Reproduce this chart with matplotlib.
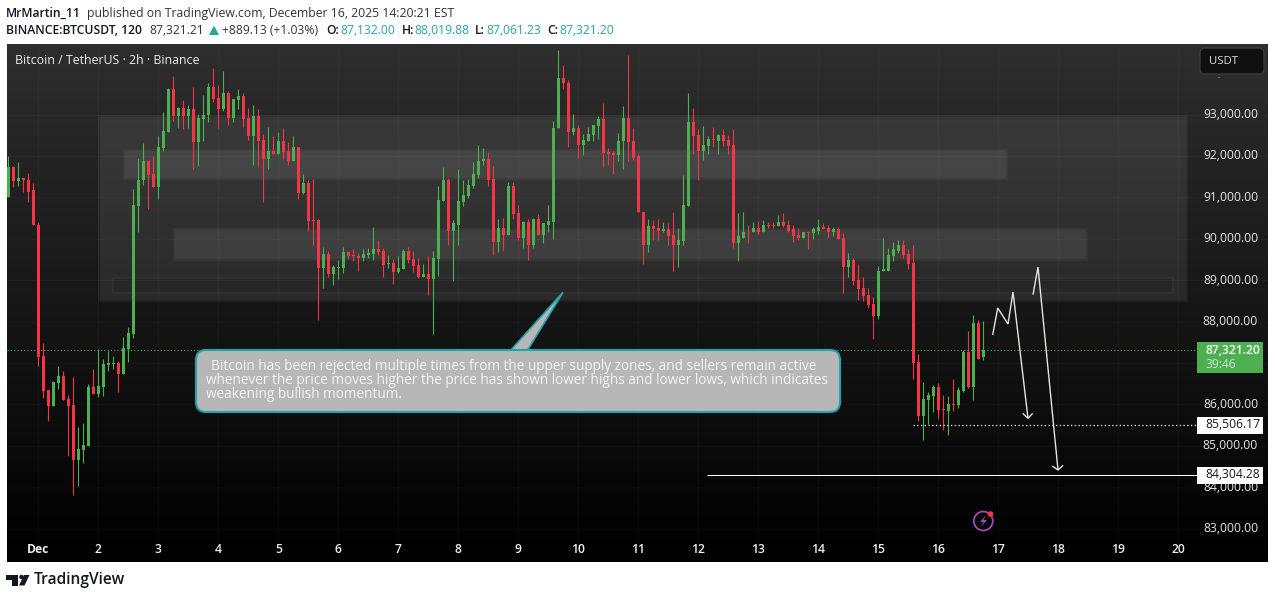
import matplotlib
matplotlib.use('Agg')
import matplotlib.pyplot as plt
from matplotlib.colors import LinearSegmentedColormap
from matplotlib.patches import Rectangle, FancyBboxPatch, Polygon, Circle
from matplotlib.transforms import Affine2D
import numpy as np

plt.rcParams['font.family'] = ['Open Sans', 'DejaVu Sans']

# 2h candles
opens = [
    91003, 91744, 91382, 91478, 91430, 91165, 90343, 87156, 86335, 85948,
    86504, 86673, 86117, 85972, 84644, 84885, 84982, 86407, 86238, 86407,
    86938, 86970, 86987, 86721, 87325, 87687, 90802, 91406, 91889, 91551,
    91237, 92203, 92589, 93628, 92952, 93169, 92952, 93121, 92324, 92903,
    92976, 93676, 93410, 93145, 93531, 92927, 93362, 93435, 92927, 92469,
    92952, 92396, 91937, 92130, 92034, 92348, 92130, 91889, 92227, 91092,
    91334, 90440, 90440, 89281, 89619, 89136, 89281, 89281, 89667, 89595,
    89571, 89522, 89595, 89619, 89740, 89691, 89377, 89402, 89184, 89257,
    89691, 89498, 89353, 89063, 89136, 89015, 89498, 90899, 91406, 90198,
    90343, 90875, 91020, 91285, 91527, 91865, 91937, 91454, 89909, 90247,
    90078, 91285, 90609, 90005, 90392, 89860, 90488, 90078, 90343, 90392,
    92662, 93893, 93773, 92589, 92662, 92275, 92372, 92517, 92734, 92903,
    92106, 92082, 92010, 92348, 92927, 92348, 91986, 90657, 89836, 90295,
    90247, 90198, 90223, 90078, 89836, 89933, 90802, 92831, 92493, 92130,
    92251, 92420, 92372, 92493, 92396, 92275, 89885, 90029, 90174, 90150,
    90247, 90174, 90319, 90319, 90295, 90392, 90319, 90223, 90078, 90005,
    90150, 90126, 90198, 90271, 90247, 90150, 90223, 90005, 89305, 89474,
    88991, 88798, 88629, 88411, 88122, 89208, 89232, 89571, 89715, 89836,
    89619, 89402, 87011, 85707, 86093, 86190, 86407, 85876, 85827, 85996,
    85972, 86310, 87252, 86407, 87953, 87132]
highs = [
    91986, 91768, 91841, 91478, 91599, 91334, 90392, 87470, 86335, 86552,
    86914, 86793, 86214, 86648, 85441, 85538, 86479, 86842, 87325, 87083,
    87276, 87156, 87035, 87614, 87856, 91189, 91961, 92300, 91913, 91986,
    92469, 93072, 93652, 93942, 93193, 93362, 93241, 93676, 93024, 93483,
    93749, 94135, 93724, 94062, 93579, 93386, 93604, 93531, 93169, 93241,
    93145, 92541, 92710, 92469, 92589, 92662, 92324, 92469, 92227, 91551,
    91406, 91454, 90488, 89788, 89715, 89353, 89474, 89788, 89715, 89740,
    89643, 89740, 89764, 90271, 89957, 89764, 89595, 89498, 89571, 89740,
    89788, 89715, 89522, 89377, 89571, 89691, 91261, 91744, 91478, 90440,
    91672, 91406, 91454, 91841, 92275, 92203, 92106, 91768, 90488, 90512,
    91358, 91358, 90826, 90416, 90488, 90512, 90585, 90368, 90826, 92855,
    94570, 94207, 93845, 93024, 92758, 92541, 92710, 92758, 92952, 93266,
    92203, 92130, 92565, 93217, 94449, 92686, 92058, 90657, 90464, 90440,
    90488, 90392, 90368, 90633, 90247, 91527, 93531, 93169, 92638, 92734,
    92469, 92710, 92541, 92638, 92517, 92638, 90609, 90657, 90319, 90392,
    90416, 90440, 90392, 90392, 90561, 90609, 90440, 90319, 90247, 90174,
    90198, 90271, 90464, 90368, 90319, 90271, 90271, 90126, 89643, 89546,
    89377, 89063, 88798, 88580, 89329, 90029, 89764, 89909, 89957, 89957,
    89740, 89860, 87204, 86528, 86286, 86455, 86504, 86214, 86190, 86600,
    86407, 87300, 87759, 88146, 88025, 88020]
lows = [
    91003, 91237, 91285, 91140, 90875, 90319, 86914, 86141, 85586, 85948,
    86359, 86093, 84741, 83799, 84016, 84572, 84982, 86238, 86165, 86190,
    86793, 86842, 86286, 86721, 87011, 87590, 90174, 91309, 90706, 91237,
    90971, 92130, 92589, 92855, 92662, 92638, 92662, 91672, 91768, 92372,
    92807, 93290, 92662, 93096, 92758, 92807, 93145, 92710, 92396, 91792,
    91744, 90875, 91672, 92034, 92034, 91937, 91792, 91889, 90947, 91068,
    90198, 89860, 88025, 88798, 89063, 88870, 89015, 89160, 89498, 89450,
    89208, 89450, 89546, 89474, 89595, 89063, 89281, 88894, 89160, 89257,
    89402, 89184, 89039, 89063, 88629, 87687, 89088, 90899, 89860, 88967,
    89836, 90802, 90995, 91213, 91478, 91792, 91285, 89595, 89667, 89715,
    90078, 90464, 89957, 89764, 89474, 89764, 90078, 89885, 90150, 89981,
    92662, 93628, 92227, 92493, 91961, 92010, 92372, 92372, 92420, 91744,
    91792, 91551, 91889, 91672, 91865, 91913, 90633, 89377, 89667, 89957,
    89957, 90150, 89860, 89232, 89305, 89860, 90778, 92058, 91430, 91913,
    92058, 92227, 92034, 92251, 92058, 89764, 89450, 90005, 89885, 90150,
    90102, 90174, 90247, 90247, 90295, 90271, 90174, 89909, 89957, 90005,
    89740, 89981, 90102, 90223, 90029, 90054, 89981, 88677, 89063, 88870,
    88508, 88484, 88315, 87566, 88049, 89208, 89232, 89450, 89643, 89546,
    89257, 86600, 85586, 85127, 85513, 85803, 85634, 85368, 85248, 85827,
    85900, 86286, 86383, 86093, 87083, 87061]
closes = [
    91744, 91382, 91478, 91406, 91140, 90319, 87131, 86310, 85948, 86528,
    86673, 86093, 85948, 84644, 84910, 85006, 86407, 86238, 86431, 86962,
    86987, 86987, 86721, 87349, 87711, 90826, 91430, 91889, 91527, 91237,
    92227, 92613, 93628, 92952, 93169, 92952, 93121, 92324, 92927, 93000,
    93676, 93386, 93145, 93531, 92927, 93386, 93435, 92903, 92469, 92952,
    92372, 91937, 92130, 92034, 92348, 92106, 91889, 92227, 91092, 91334,
    90416, 90416, 89281, 89619, 89136, 89305, 89305, 89667, 89571, 89571,
    89546, 89619, 89643, 89740, 89667, 89353, 89402, 89184, 89281, 89691,
    89474, 89329, 89063, 89136, 89015, 89522, 90923, 91406, 90198, 90368,
    90899, 91044, 91309, 91551, 91889, 91937, 91430, 89909, 90247, 90078,
    91285, 90585, 90005, 90392, 89860, 90488, 90078, 90368, 90416, 92686,
    93893, 93749, 92589, 92662, 92275, 92396, 92541, 92758, 92903, 92082,
    92058, 92010, 92372, 92927, 92324, 91961, 90633, 89836, 90295, 90223,
    90198, 90223, 90054, 89836, 89957, 90826, 92831, 92469, 92130, 92275,
    92420, 92396, 92493, 92372, 92251, 89885, 90054, 90174, 90150, 90247,
    90174, 90319, 90295, 90295, 90392, 90295, 90198, 90054, 90005, 90150,
    90126, 90223, 90271, 90223, 90150, 90223, 89981, 89305, 89474, 88967,
    88774, 88605, 88387, 88122, 89232, 89257, 89595, 89740, 89836, 89595,
    89377, 86987, 85707, 86117, 86214, 86407, 85851, 85851, 85996, 85972,
    86335, 87252, 86407, 87953, 87083, 87321]

day_labels = ['Dec', '2', '3', '4', '5', '6', '7', '8', '9', '10', '11', '12',
              '13', '14', '15', '16', '17', '18', '19', '20']
price_ticks = [83000, 84000, 85000, 86000, 87000, 88000, 89000, 90000, 91000,
               92000, 93000]
price_labels = ['83,000.00', '84,000.00', '85,000.00', '86,000.00', '', '88,000.00',
                '89,000.00', '90,000.00', '91,000.00', '92,000.00', '93,000.00']

# zones: first bar, last bar, low, high
zone_first = [17.9, 22.9, 32.9]
zone_last = [235.9, 200, 215.9]
zone_low = [88460, 91420, 89450]
zone_high = [92976, 92155, 90247]
zone_alpha = [0.09, 0.09, 0.09]
# thin outlined box near the bottom of the big zone
box_first, box_last, box_low, box_high = 20.9, 232.9, 88700, 89040

last_price = 87321.20
level_mid = 85506.17
level_low = 84304.28

GREEN = '#4caf50'
RED = '#f23645'
TEAL = '#26a69a'
DARK = '#131722'

fig = plt.figure(figsize=(12.75, 5.99), dpi=100, facecolor='white')
ax = fig.add_axes([7 / 1275, 37 / 599, 1261 / 1275, 518 / 599])
ax.set_xlim(-0.26, 251.94)
ax.set_ylim(82191, 94703)

# top-left pixel coordinates for all the overlay furniture
px = Affine2D().scale(1, -1).translate(0, 599)

cmap = LinearSegmentedColormap.from_list('panel', ['#2e2e2e', '#000000'])
ax.imshow(np.linspace(0, 1, 256).reshape(-1, 1), cmap=cmap, aspect='auto',
          extent=[-0.26, 251.94, 82191, 94703], zorder=0)

for k in range(len(day_labels)):
    ax.axvline(6 + 12 * k, color=(1, 1, 1, 0.025), lw=1, zorder=1)
for p in price_ticks:
    ax.axhline(p, color=(1, 1, 1, 0.025), lw=1, zorder=1)


def draw_zone(first, last, low, high, alpha):
    # soft 2px band around the fill
    ax.add_patch(Rectangle((first, low), last - first, high - low, lw=0,
                           facecolor=(1, 1, 1, alpha * 0.5), zorder=2))
    ax.add_patch(Rectangle((first + 0.4, low + 48), last - first - 0.8, high - low - 96,
                           lw=0, facecolor=(1, 1, 1, alpha * 0.5), zorder=2))


for i in range(len(zone_first)):
    draw_zone(zone_first[i], zone_last[i], zone_low[i], zone_high[i], zone_alpha[i])
ax.add_patch(Rectangle((box_first, box_low), box_last - box_first, box_high - box_low,
                       facecolor=(0, 0, 0, 0.05), edgecolor=(1, 1, 1, 0.035), lw=1.4, zorder=2))

idx = np.arange(len(opens))
o = np.array(opens)
c = np.array(closes)
colors = [GREEN if c[i] >= o[i] else RED for i in idx]
ax.vlines(idx, lows, highs, colors=colors, lw=0.8, zorder=3)
ax.bar(idx, np.maximum(np.abs(c - o), 24), bottom=np.minimum(o, c), width=0.6,
       color=colors, lw=0, zorder=4)

# price levels stop at the price scale
scale_bar = 237.7
ax.hlines(last_price, -0.26, scale_bar, colors=GREEN, lw=0.8, linestyles=(0, (1, 2)), zorder=5)
ax.hlines(level_mid, 181, scale_bar, colors='white', lw=0.9, linestyles=(0, (1, 2)), zorder=5)
ax.hlines(level_low, 139.7, scale_bar, colors='white', lw=0.75, zorder=5)

ax.set_xticks([6 + 12 * k for k in range(len(day_labels))])
ax.set_xticklabels(day_labels, color='#eeeeee', fontsize=8.7, fontweight='semibold')
ax.get_xticklabels()[0].set_fontweight('bold')
ax.tick_params(axis='x', length=0, pad=-14, direction='in')
ax.set_yticks(price_ticks)
ax.set_yticklabels(price_labels, color='#e6e6e6', fontsize=8.7, fontweight='medium')
ax.yaxis.tick_right()
ax.tick_params(axis='y', length=0, pad=-7.2)
for t in ax.get_yticklabels():
    t.set_ha('right')
    t.set_va('center')
for s in ax.spines.values():
    s.set_visible(False)


def label(x, y, s, **kw):
    kw.setdefault('va', 'center')
    return fig.text(x, y, s, transform=px, **kw)


def overlay(patch):
    patch.set_transform(px)
    patch.set_clip_on(False)
    fig.add_artist(patch)


# drawn targets
for path in ([(992.7, 335), (997.7, 308), (1008, 324), (1013, 292), (1028, 418.3)],
             [(1022.7, 413.3), (1028, 418.3), (1032.7, 413.3)],
             [(1033, 294.7), (1038, 267), (1058, 470)],
             [(1052.3, 466), (1058, 470), (1063, 465.3)]):
    overlay(Polygon(path, closed=False, fill=False, edgecolor='#e4e4e4', lw=1))

# callout
overlay(Polygon([(510, 351), (563, 292.3), (527, 351)], closed=True, facecolor='#b7b7b7',
                edgecolor='#22a6ad', lw=1.2))
overlay(FancyBboxPatch((206, 360), 624, 42, boxstyle='round,pad=10,rounding_size=10',
                       facecolor='#b7b7b7', edgecolor='#22a6ad', lw=1.5))
callout_lines = [
    'Bitcoin has been rejected multiple times from the upper supply zones, and sellers remain active',
    'whenever the price moves higher the price has shown lower highs and lower lows, which indicates',
    'weakening bullish momentum.']
callout_x = [211, 206, 206]
for i, line in enumerate(callout_lines):
    label(callout_x[i], 366 + 14 * i, line, color='#f4f4f4', fontsize=9.78, fontweight='medium')

# price scale boxes
overlay(FancyBboxPatch((1203, 51), 58, 20, boxstyle='round,pad=3,rounding_size=5',
                       facecolor='#101010', edgecolor='#3a3a3a', lw=1))
label(1209, 61, 'USDT', color='#dddddd', fontsize=8.2, fontweight='medium')
label(1218, 78, '-', color='#aaaaaa', fontsize=5)
overlay(Rectangle((1197, 342), 66, 31, facecolor=GREEN, lw=0))
label(1205, 350, '87,321.20', color='white', fontsize=8.7, fontweight='semibold')
label(1205, 364, '39:46', color='#cfe9d0', fontsize=8.7, fontweight='medium')
overlay(Rectangle((1197, 417), 66, 17, facecolor='white', lw=0))
label(1205, 425, '85,506.17', color='#131722', fontsize=8.7, fontweight='medium')
overlay(Rectangle((1197, 467), 66, 17, facecolor='white', lw=0))
label(1205, 475, '84,304.28', color='#131722', fontsize=8.7, fontweight='medium')

label(15, 60, 'Bitcoin / TetherUS · 2h · Binance', color='#ececec', fontsize=8.9, fontweight='medium')

# lightning badge
overlay(Circle((983.3, 521), 9.5, fill=False, edgecolor='#9b4db8', lw=1.3))
overlay(Polygon([(986, 515), (980, 522), (983.5, 522), (981, 527), (987, 520), (983.5, 520)],
                facecolor='#9b4db8', lw=0))
overlay(Circle((990.5, 514), 2.8, facecolor='#f23645', lw=0))

# header
label(6, 13, 'MrMartin_11', color=DARK, fontsize=8.7, fontweight='semibold')
label(87, 13, 'published on TradingView.com, December 16, 2025 14:20:21 EST', color='#333333', fontsize=8.8)
label(6, 30, 'BINANCE:BTCUSDT, 120', color=DARK, fontsize=8.7, fontweight='semibold')
label(149, 30, '87,321.21', color='#333333', fontsize=8.7)
overlay(Polygon([(209, 35), (214, 25.5), (219, 35)], facecolor=TEAL, lw=0))
label(222, 30, '+889.13 (+1.03%)', color='#333333', fontsize=8.7)
for x_key, key, x_val, val in [(326, 'O:', 340, '87,132.00'), (402, 'H:', 414, '88,019.88'),
                               (475, 'L:', 486, '87,061.23'), (547, 'C:', 559, '87,321.20')]:
    label(x_key, 30, key, color=DARK, fontsize=8.7, fontweight='semibold')
    label(x_val, 30, val, color=TEAL, fontsize=8.7)

# footer logo
overlay(Polygon([(6, 575), (18, 575), (18, 585.5), (12, 585.5), (12, 579.5), (6, 579.5)],
                facecolor=DARK, lw=0))
overlay(Circle((21.5, 577), 2.2, facecolor=DARK, lw=0))
overlay(Polygon([(24, 575), (29.5, 575), (24.5, 585.5), (19, 585.5)], facecolor=DARK, lw=0))
label(34, 580, 'TradingView', color=DARK, fontsize=11.2, fontweight='semibold')

fig.savefig('out.png', dpi=100, facecolor='white')
